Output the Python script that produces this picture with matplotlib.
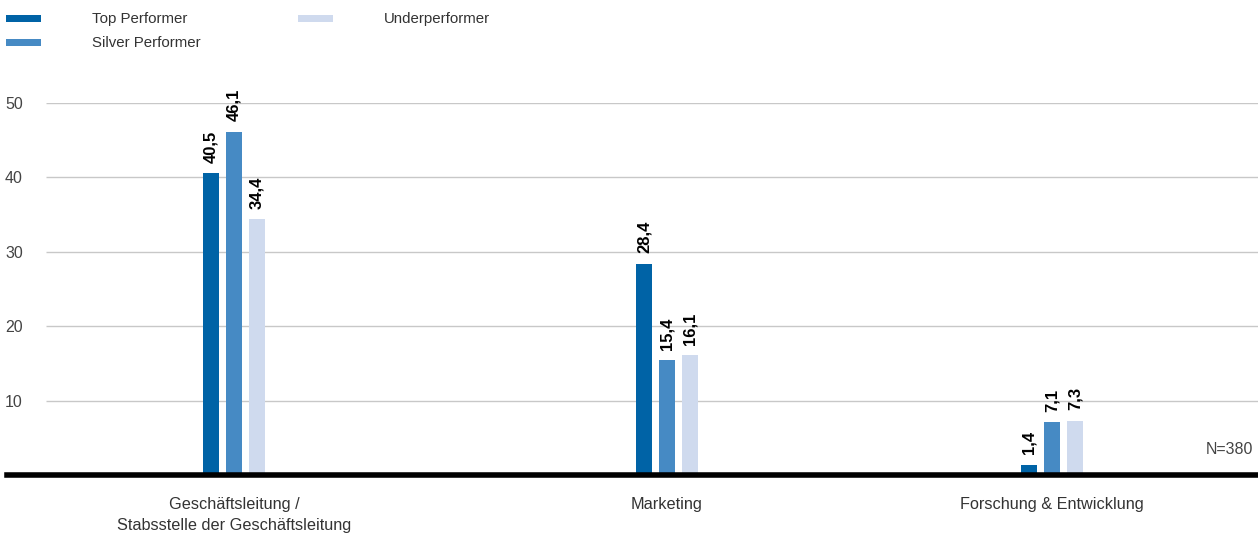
import numpy as np
import matplotlib.pyplot as plt
from matplotlib.patches import Rectangle

plt.rcParams['font.family'] = ['Liberation Sans', 'DejaVu Sans']

categories = ["Geschäftsleitung /\nStabsstelle der Geschäftsleitung", "Marketing", "Forschung & Entwicklung"]
series = ["Top Performer", "Silver Performer", "Underperformer"]
top = [40.5, 28.4, 1.4]
silver = [46.1, 15.4, 7.1]
under = [34.4, 16.1, 7.3]
yticks = [10, 20, 30, 40, 50]
note = "N=380"

colors = ["#0063a6", "#468ac4", "#cfdaee"]
W, H = 1258, 533

def px(x, y):
    # pixel position (from top-left) -> figure fraction
    return x / W, 1 - y / H

fig = plt.figure(figsize=(W / 100, H / 100), dpi=100)
ax = fig.add_axes([7 / W, 1 - 475.2 / H, (W - 7) / W, (475.2 - 102.7) / H])
ax.set_xlim(7, W)
ax.set_ylim(0, 50)

centers = np.array([234, 667, 1052])
step, width = 23, 16
for i, (vals, c) in enumerate(zip([top, silver, under], colors)):
    xs = centers + (i - 1) * step
    bars = ax.bar(xs, vals, width=width, color=c, zorder=3)
    for b, v in zip(bars, vals):
        ax.annotate(f"{v:.1f}".replace(".", ","), (b.get_x() + b.get_width() / 2, v),
                    xytext=(0, 7.5), textcoords="offset points", rotation=90,
                    ha="center", va="bottom", fontsize=12, fontweight="bold", color="black")

# gridlines and baseline
ax.hlines(yticks, 46, W, color="#c8c8c8", lw=1, zorder=1)
ax.axhline(0, color="black", lw=4, zorder=4, clip_on=False)

for s in ax.spines.values():
    s.set_visible(False)
ax.set_yticks(yticks)
ax.set_yticklabels([str(t) for t in yticks])
ax.tick_params(axis="y", length=0, pad=-11.5, labelsize=11.5, labelcolor="#444444")
ax.set_xticks(centers)
ax.set_xticklabels(categories)
ax.tick_params(axis="x", length=0, pad=16, labelsize=11.7, labelcolor="#333333")
for lbl in ax.get_xticklabels():
    lbl.set_linespacing(1.5)

fx, fy = px(1253, 449)
fig.text(fx, fy, note, fontsize=11.5, color="#444444", ha="right", va="center")

# legend
legend_pos = [(6, 15, 92), (6, 39, 92), (298, 15, 384)]
for (sx, sy, tx), name, c in zip(legend_pos, series, colors):
    x0, y0 = px(sx, sy + 7)
    fig.add_artist(Rectangle((x0, y0), 35 / W, 7 / H, transform=fig.transFigure,
                             color=c, lw=0))
    tx_, ty_ = px(tx, sy + 4)
    fig.text(tx_, ty_, name, fontsize=10.8, color="#333333", ha="left", va="center")

fig.savefig("out.png", dpi=100)
